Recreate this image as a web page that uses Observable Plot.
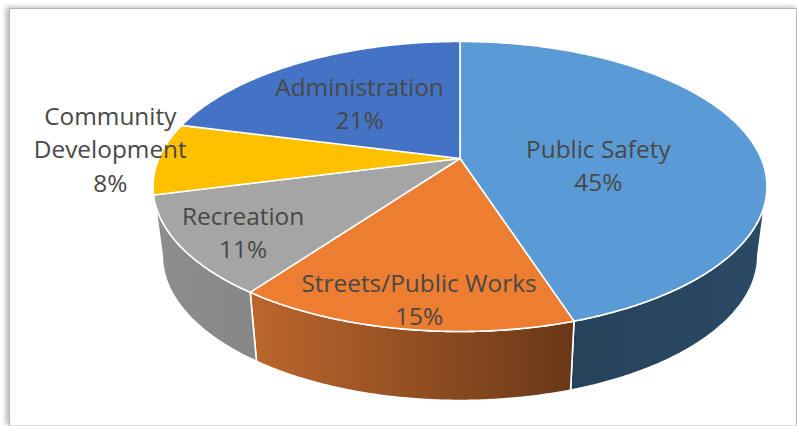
<!DOCTYPE html>
<html>
<head>
<meta charset="utf-8">
<script src="https://cdn.jsdelivr.net/npm/d3@7"></script>
<script src="https://cdn.jsdelivr.net/npm/@observablehq/plot@0.6"></script>
<style>
  html, body { margin: 0; padding: 0; background: #fff; }
  #page { position: relative; width: 797px; height: 426px; overflow: hidden; }
  #frame {
    position: absolute; left: 9px; top: 8px; width: 786px; height: 416px;
    border: 1px solid #b4b4b4; border-bottom-color: #dedede; border-right: 2px solid #b8b8b8;
    box-shadow: -3px -1px 5px rgba(0,0,0,.28);
    background: #fff;
  }
  #page svg { position: absolute; left: 0; top: 0; background: transparent; }
</style>
</head>
<body>
<div id="page"><div id="frame"></div><div id="chart"></div></div>
<script>
// City budget shares, clockwise from twelve o'clock.
const departments = ["Public Safety", "Streets/Public Works", "Recreation", "Community Development", "Administration"];
const shares = [45, 15, 11, 8, 21];
const labelLines = [["Public Safety"], ["Streets/Public Works"], ["Recreation"], ["Community", "Development"], ["Administration"]];

// Slice styling.
const topColors = ["#5B9BD5", "#ED7D31", "#A5A5A5", "#FFC000", "#4472C4"];
const wallFills = ["url(#wall-blue)", "url(#wall-orange)", "url(#wall-gray)", null, null];
const labelNudge = [[-37, 18], [-9, 46], [-57, 22], [-169, -11], [1, 4]];

// Tilted disc: a perspective view of a unit circle, plus a shrunken lower rim.
const disc = {cx: 459.5, cy: 158, a: 301.2, b: 139.6, k: 0.193, depth: 69, rimScale: 0.97};

function plate(turn, reach = 1) {
  const t = turn * 2 * Math.PI;
  const u = reach * Math.sin(t), v = -reach * Math.cos(t), w = 1 - disc.k * v;
  return {x: disc.cx + disc.a * u / w, y: disc.cy + disc.b * v / w};
}
function rim(turn) {
  const p = plate(turn);
  return {x: disc.cx + disc.rimScale * (p.x - disc.cx), y: p.y + disc.depth};
}
function arc(from, to, fn) {
  const n = Math.max(2, Math.ceil(Math.abs(to - from) * 720));
  return d3.range(n + 1).map(i => fn(from + (to - from) * i / n));
}

// Cumulative slice boundaries, as fractions of a full turn.
const total = d3.sum(shares);
const ends = d3.cumsum(shares).map(c => c / total);
const starts = ends.map((e, i) => (i ? ends[i - 1] : 0));

// The wall is visible only between the disc's widest points.
const visibleFrom = Math.acos(-disc.k) / (2 * Math.PI);
const visibleTo = 1 - visibleFrom;

const faceStyle = {x: "x", y: "y", curve: "linear", stroke: "white", strokeWidth: 1.6, strokeLinejoin: "round"};

const walls = departments.flatMap((_, i) => {
  const a = Math.max(starts[i], visibleFrom);
  let b = Math.min(ends[i], visibleTo);
  if (!wallFills[i] || a >= b) return [];
  // The last lit wall runs on to the silhouette edge of the disc.
  if (i === 2) b = visibleTo;
  const pts = [...arc(a, b, plate), ...arc(b, a, rim)];
  return [Plot.line([...pts, pts[0]], {...faceStyle, fill: wallFills[i]})];
});

const tops = departments.map((_, i) => {
  const hub = plate(0, 0);
  return Plot.line([hub, ...arc(starts[i], ends[i], plate), hub], {...faceStyle, fill: topColors[i]});
});

const labels = departments.map((_, i) => {
  const mid = (starts[i] + ends[i]) / 2;
  const p = plate(mid, 0.6);
  return Plot.text([{...p, text: [...labelLines[i], `${shares[i]}%`].join("\n")}], {
    x: "x", y: "y", text: "text",
    dx: labelNudge[i][0], dy: labelNudge[i][1],
    fill: "#484848", fontSize: 24.4, lineHeight: 1.377,
    fontFamily: "'Open Sans', sans-serif", textAnchor: "middle", lineAnchor: "middle"
  });
});

// Left-to-right shading for the side walls.
function wallGradients() {
  const defs = d3.create("svg:defs");
  [["wall-blue", "#27415a", "#2b4a66"], ["wall-orange", "#bd662c", "#693818"], ["wall-gray", "#8e8e8e", "#868686"]]
    .forEach(([id, from, to]) => {
      const g = defs.append("linearGradient").attr("id", id);
      g.append("stop").attr("offset", "0%").attr("stop-color", from);
      g.append("stop").attr("offset", "100%").attr("stop-color", to);
    });
  return defs.node();
}

const chart = Plot.plot({
  width: 797,
  height: 426,
  margin: 0,
  x: {domain: [0, 797], range: [0, 797], axis: null},
  y: {domain: [0, 426], range: [0, 426], axis: null},
  style: {background: "transparent"},
  marks: [wallGradients, ...walls, ...tops, ...labels]
});
document.getElementById("chart").append(chart);
</script>
</body>
</html>
